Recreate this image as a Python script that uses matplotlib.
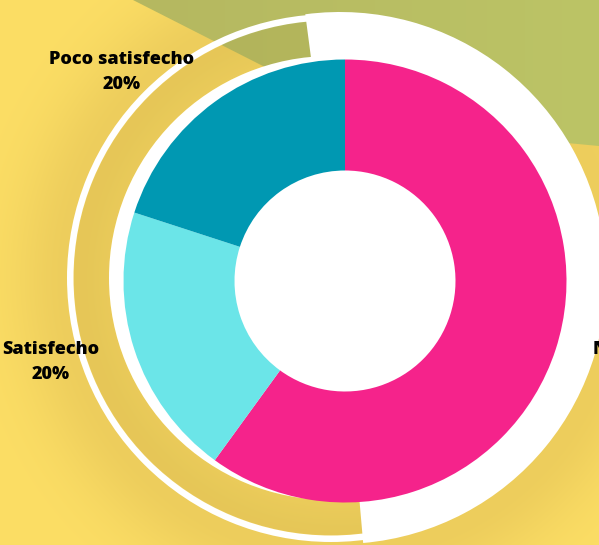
import numpy as np
import matplotlib
matplotlib.use('Agg')
import matplotlib.pyplot as plt
from matplotlib.patches import Wedge, Polygon
from matplotlib.colors import to_rgb

plt.rcParams['font.family'] = ['Open Sans', 'DejaVu Sans']

# datos
categorias = ['Nada satisfecho', 'Satisfecho', 'Poco satisfecho']
valores = [60, 20, 20]
colores = ['#F5238B', '#6BE5E8', '#0098B2']
etiquetas = ['Nada satisfecho\n60%', 'Satisfecho\n20%', 'Poco satisfecho\n20%']

W, H = 599, 545
fig = plt.figure(figsize=(W / 100, H / 100), dpi=100)
ax = fig.add_axes([0, 0, 1, 1])
ax.set_axis_off()

# fondo amarillo con sombra suave alrededor del anillo
yy, xx = np.mgrid[0:H, 0:W]
d = np.hypot(xx - 340, yy - 278)
sombra = np.exp(-((d - 268) / 60.0) ** 2)
claro = np.array(to_rgb('#FCDE65'))
oscuro = np.array(to_rgb('#EDCD5C'))
fondo = claro * (1 - sombra[..., None]) + oscuro * sombra[..., None]
ax.imshow(fondo, extent=(0, W, H, 0), zorder=0, interpolation='bilinear')

# triangulo verde oliva arriba a la derecha
oliva = Polygon([(133, 0), (W, 0), (W, 146), (567, 143), (379, 125)],
                closed=True, facecolor='none', edgecolor='none', zorder=1)
ax.add_patch(oliva)
t = (xx / W)[..., None]
grad = np.array(to_rgb('#B3B45E')) * (1 - t) + np.array(to_rgb('#BCC466')) * t
im = ax.imshow(grad, extent=(0, W, H, 0), zorder=1, interpolation='bilinear')
im.set_clip_path(oliva)

def ang(a):
    # angulo horario desde arriba -> angulo de datos (eje y invertido)
    return a - 90

# banda sombreada + linea blanca fina
c2 = (331, 278)
ax.add_patch(Wedge(c2, 257, 0, 360, width=35, facecolor='#8a6d1a', alpha=0.07,
                   edgecolor='none', zorder=2))
ax.add_patch(Wedge(c2, 264, 0, 360, width=6.5, facecolor='white',
                   edgecolor='none', zorder=3))
# disco blanco detras del donut
ax.add_patch(Wedge(c2, 222, 0, 360, facecolor='white', edgecolor='none', zorder=3))
# segmento blanco a la derecha
ax.add_patch(Wedge((340, 278), 266, ang(-7.5), ang(175), facecolor='white',
                   edgecolor='none', zorder=4))

# donut
ax.pie(valores, colors=colores, center=(345, 281), radius=221.5,
       startangle=-90, counterclock=True,
       wedgeprops=dict(width=111, edgecolor='none', zorder=5))

ax.set_xlim(0, W)
ax.set_ylim(H, 0)

est = dict(fontsize=13, fontweight='heavy', color='black', va='center',
           multialignment='center', linespacing=1.6, zorder=6)
ax.text(122, 72, etiquetas[2], ha='center', **est)
ax.text(51, 362, etiquetas[1], ha='center', **est)
ax.text(593, 362, etiquetas[0], ha='left', **est)

fig.savefig('out.png', dpi=100)
